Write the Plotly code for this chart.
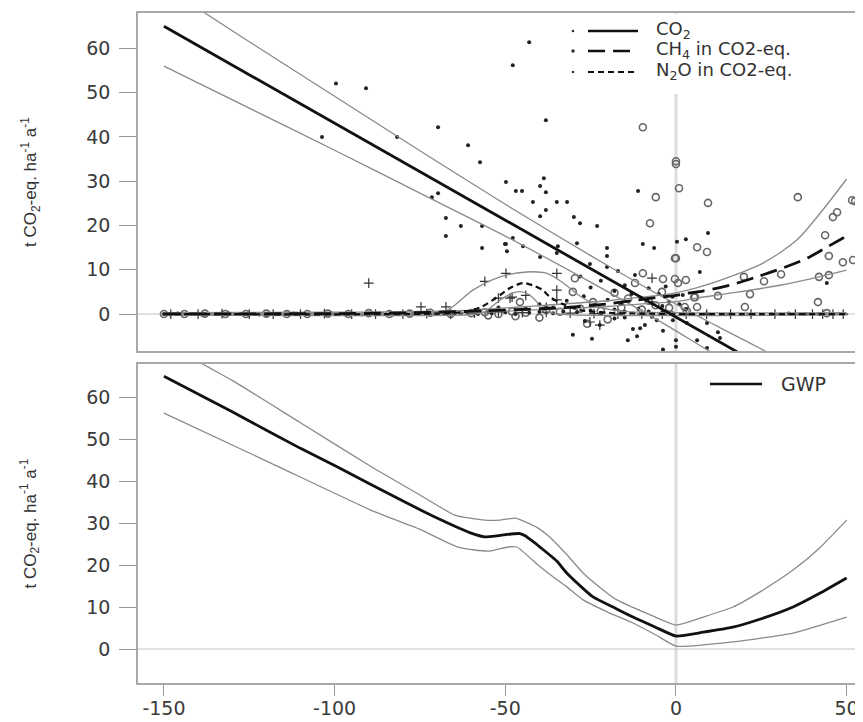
import plotly.graph_objects as go

# ---------------- data ----------------
# CO2 observations (small dots)
co2_x = [-99.6, -90.8, -103.7, -81.7, -69.7, -60.9, -57.4, -47.8, -43.0, -38.1, -49.8, -46.9, -45.1,
         -39.8, -38.7, -38.1, -69.7, -71.5, -67.4, -63.0, -56.8, -67.4, -56.8, -49.8, -49.5, -47.8,
         -11.1, -41.9, -34.9, -31.9, -38.1, -39.8, -29.9, -28.1, -23.1, 9.4, -9.7, -6.4, -50.1, -44.8,
         -39.8, -34.9, -34.6, -29.0, -25.2, -20.2, -20.2, -20.2, -17.0, 0.3, 2.9, 7.0, 44.2,
         -28.0, -25.0, -22.0, -18.0, -15.0, -13.0, -12.0, -10.0, -8.0, -7.0, -5.0, -4.0, -3.0, -2.0,
         -1.0, 1.0, 2.0, 3.0, -16.0, -20.0, -24.0, -27.0, -32.0, -36.0, -40.0, -44.0, -52.0, -55.0,
         -26.7, -22.3, -12.6, -10.5, -9.1, -30.2, -24.6, -14.1, -11.4, -3.8, -5.6, -0.9, 0.0, 0.0,
         -3.8, 3.2, 9.1, 12.3, 12.9, 6.2, 9.1, -18.0, -15.0, -7.0,
         -150, -148, -146, -144, -142, -139, -137, -135, -133, -131, -129, -127, -124, -122, -120,
         -118, -116, -114, -112, -110, -108, -105, -103, -101, -99, -97, -94, -92, -90, -88, -86,
         -83, -81, -79, -77, -75, -72, -70, -68, -65, -63, -61, -58, -54, -50, -47, -43, -40, -36,
         -33, -29, -25, -22, -18, -15, -11, -8, -4, -1, 5, 9, 16, 22, 28, 33, 38, 42, 46, 49]
co2_y = [52.1, 51.0, 40.0, 40.0, 42.2, 38.1, 34.3, 56.2, 61.4, 43.8, 29.8, 27.8, 27.8,
         28.9, 30.7, 27.5, 27.3, 26.4, 21.7, 19.9, 19.9, 17.6, 14.9, 15.8, 14.2, 17.2,
         27.8, 25.3, 25.3, 25.3, 23.5, 22.1, 21.9, 20.5, 19.9, 18.3, 15.8, 14.9, 15.8, 15.3,
         12.9, 13.8, 15.3, 16.0, 11.3, 14.9, 13.1, 10.6, 9.7, 16.3, 16.9, 9.5, 7.0,
         8.5, 6.0, 7.5, 5.2, 6.5, 4.5, 8.8, 3.5, 5.8, 2.5, 4.5, 1.8, 6.2, 2.8,
         3.9, 2.2, 4.3, 1.1, 2.5, 3.2, 2.1, 4.0, 3.0, 1.5, 2.2, 1.2, 1.5, 0.6,
         -1.6, -2.5, -3.4, -3.2, -2.5, -4.7, -5.6, -5.9, -5.0, -3.8, -1.4, -1.4, -5.9, -7.4,
         -8.0, -2.0, -2.0, -4.1, -5.4, -5.9, -7.7, -1.0, -0.8, -0.6,
         0.0, -0.1, 0.1, 0.0, 0.0, -0.1, 0.0, 0.0, 0.1, 0.1, 0.0, 0.0, 0.0, -0.1, -0.1,
         0.0, 0.0, 0.1, 0.1, 0.0, 0.0, 0.0, 0.1, 0.2, 0.0, 0.0, 0.0, -0.1, 0.1, 0.0, 0.0,
         -0.1, 0.0, 0.0, 0.1, 0.2, 0.0, 0.1, 0.1, 0.0, 0.2, 0.3, 0.0, 0.2, 0.4, 0.0, 0.3, 0.5, 0.2,
         0.6, 0.4, 0.8, 0.3, 1.0, 0.5, 1.2, 0.6, 0.4, 0.2, 0.0, 0.1, 0.0, -0.1, 0.0, 0.1, 0.0, 0.0, 0.0]

# CH4 observations in CO2-eq. (open circles)
ch4_x = [-9.7, 0.0, 0.0, 0.9, -5.9, 9.4, -7.6, 0.0, 6.2, 9.1, 35.7, 43.7, 44.8, 48.9, 51.9, 41.9,
         44.8, 30.8, 19.9, 25.8, 21.7, 12.3, 5.3, 20.2, 41.6, 44.2, 6.2, 3.2, 51.6, 52.5, 47.2, 46.0,
         2.9, -9.7, -12.0, -3.8, -0.3, 0.6, -0.3, -4.1, 2.6, 5.6, -24.3, -30.2, -29.6, -45.7, -14.0,
         -18.0, -8.0, -20.0, -26.0, -40.0, -47.0, -55.0,
         -150, -144, -138, -132, -126, -120, -114, -108, -102, -96, -90, -84, -78, -72, -66, -60,
         -56, -52, -48, -44, -38, -34, -28, -22, -16, -10, -6, -2]
ch4_y = [42.2, 34.5, 33.9, 28.4, 26.4, 25.1, 20.5, 12.6, 15.1, 14.0, 26.4, 17.8, 13.1, 11.7, 12.2, 8.4,
         8.8, 9.0, 8.4, 7.4, 4.5, 4.1, 3.8, 1.6, 2.7, 0.2, 1.6, 0.7, 25.7, 25.5, 23.0, 21.9,
         7.7, 9.2, 7.0, 7.9, 7.9, 7.0, 12.6, 5.0, 1.6, 3.8, 2.7, 5.0, 8.1, 2.7, 3.5,
         4.8, 3.0, -1.2, -2.2, -0.8, -0.5, -0.3,
         0.0, 0.0, 0.1, 0.0, 0.0, 0.1, 0.0, 0.0, 0.1, 0.0, 0.2, 0.0, 0.1, 0.3, 0.0, 0.2,
         0.4, 0.0, 0.6, 0.3, 0.9, 0.5, 1.2, 0.7, 1.5, 1.0, 2.0, 1.4]

# N2O observations in CO2-eq. (plus signs)
n2o_x = [-90.0, -74.7, -67.4, -56.0, -49.8, -34.9, -34.9, -34.9, -48.0, -48.6, -7.0, -25.2, -22.3,
         -52.0, -38.0, -44.0,
         -148, -140, -133, -125, -118, -110, -103, -95, -88, -80, -73, -66, -59, -52, -45, -38,
         -31, -24, -17, -10, -4, 3, 9, 16, 22, 29, 35, 40, 43, 46, 49]
n2o_y = [7.0, 1.6, 1.6, 7.4, 9.2, 9.2, 5.4, 3.2, 3.8, 3.6, 8.1, -1.8, -2.5,
         3.6, 1.5, 4.2,
         0.0, 0.0, 0.1, 0.0, 0.0, 0.0, 0.1, 0.0, 0.0, 0.0, 0.1, 0.0, 0.2, 0.5, 0.3, 0.4,
         0.2, 0.1, 0.0, 0.0, 0.0, 0.0, 0.0, 0.0, 0.0, 0.0, 0.0, 0.0, 0.0, 0.0, 0.0]

# CO2 fit and confidence band
co2_fit_x = [-150, -100, -50, 0, 50]
co2_fit_y = [65.0, 43.1, 21.2, -0.7, -22.6]
co2_band_x = [-150, -125, -100, -75, -50, -25, -10, 0, 10, 20, 30]
co2_up = [74.0, 61.5, 49.2, 36.9, 24.8, 13.2, 6.5, 2.2, -1.9, -5.9, -9.9]
co2_lo = [56.0, 46.5, 37.0, 27.3, 17.6, 7.2, 0.7, -3.8, -8.5, -13.1, -17.9]

# CH4 fit and confidence band
ch4_fit_x = [-150, -100, -70, -50, -34, -20, -11, -5, 0, 3.2, 7.9, 15.8, 23.7, 31.3, 38.4, 44.2, 50]
ch4_fit_y = [0.05, 0.1, 0.4, 0.9, 1.4, 2.3, 3.2, 3.8, 4.2, 4.7, 5.2, 6.5, 8.4, 10.4, 12.6, 15.1, 17.6]
ch4_up_x = [-150, -100, -60, -40, -20, -10, 0, 6, 15.8, 25.5, 35.4, 43, 50]
ch4_up = [0.3, 0.4, 0.9, 1.9, 3.0, 3.8, 4.8, 5.9, 8.4, 11.5, 16.7, 23.5, 30.5]
ch4_lo_x = [-150, -100, -60, -40, -20, -10, 0, 6, 15.8, 30.5, 42, 50]
ch4_lo = [-0.2, -0.2, 0.3, 1.0, 1.7, 2.3, 2.8, 3.6, 4.7, 6.5, 8.4, 9.9]

# N2O fit and confidence band
n2o_fit_x = [-150, -70, -62, -57, -51.5, -48.6, -44.8, -42, -39, -37, -33, -28, -20, -10, 0, 50]
n2o_fit_y = [0.0, 0.1, 0.5, 1.6, 4.3, 5.9, 7.0, 6.5, 5.4, 3.9, 2.2, 0.9, 0.3, 0.1, 0.0, 0.0]
n2o_up_x = [-150, -75, -67, -59.5, -51.5, -43.7, -37.8, -33, -28, -22, -15, 0, 50]
n2o_up = [0.2, 0.3, 0.9, 5.4, 8.4, 9.5, 9.2, 7.0, 4.0, 1.5, 0.6, 0.3, 0.3]
n2o_lo_x = [-150, -60, -56.5, -50.7, -46.6, -43.7, -40.7, -39.8, -36, -30, 50]
n2o_lo = [-0.2, -0.1, 0.3, 3.6, 5.0, 4.7, 2.7, 1.4, 0.2, -0.2, -0.2]

# GWP fit and confidence band
gwp_x = [-150, -130, -110, -99, -79.4, -70, -60, -56, -52, -48.3, -45.7, -44.2, -42, -40, -35, -32,
         -28, -24.3, -18, -12.6, -6, 0, 8, 16.7, 25, 34.3, 42, 50]
gwp_y = [65.0, 56.5, 47.8, 43.3, 35.0, 31.2, 27.6, 26.7, 27.0, 27.4, 27.5, 27.0, 25.7, 24.4, 21.0, 18.1,
         15.0, 12.4, 9.8, 7.6, 5.2, 3.1, 4.0, 5.2, 7.2, 10.0, 13.2, 16.9]
gwp_up_x = [-150, -138.6, -130, -110, -89, -75, -64.8, -56, -51.6, -47, -45.7, -40.4, -37, -32, -27.2,
            -22, -17.3, -8, 0, 8, 16.7, 25, 34.3, 42, 50]
gwp_up = [74.5, 67.9, 64.0, 53.9, 43.3, 36.7, 31.9, 30.7, 30.7, 31.2, 30.8, 28.8, 26.7, 22.5, 18.1,
          14.5, 11.7, 8.3, 5.7, 7.6, 10.0, 13.8, 18.8, 24.0, 30.7]
gwp_lo_x = [-150, -118.7, -89.4, -75, -63.9, -55, -49.2, -46.6, -40.4, -37, -32, -27.2, -20, -12.6,
            -6, 0, 16.7, 34.3, 50]
gwp_lo = [56.2, 44.3, 33.1, 28.5, 24.3, 23.3, 24.3, 24.3, 20.0, 17.8, 14.8, 11.7, 8.8, 6.2,
          3.4, 0.7, 1.7, 3.8, 7.6]

x_ticks = [-150, -100, -50, 0, 50]
x_tick_text = ["-150", "-100", "-50", "0", "50"]
y_ticks = [0, 10, 20, 30, 40, 50, 60]
y_tick_text = ["0", "10", "20", "30", "40", "50", "60"]

legend_names = ["CO<sub>2</sub>", "CH<sub>4</sub> in CO2-eq.", "N<sub>2</sub>O in CO2-eq."]
gwp_name = "GWP"

# ---------------- figure ----------------
W, H = 855, 714          # page has an 8px body margin
OFF = 8


def px(xp):              # page pixel -> paper x
    return (xp - OFF) / W


def py(yp):              # page pixel -> paper y
    return 1 - (yp - OFF) / H


BAND = dict(color="#8a8a8a", width=1.3)
FONT = "DejaVu Sans, Verdana, sans-serif"
DASH_CH4 = "17px,8px"
DASH_N2O = "6px,4px"

fig = go.Figure()

# observations (top panel)
fig.add_trace(go.Scatter(x=ch4_x, y=ch4_y, mode="markers", showlegend=False, xaxis="x", yaxis="y",
                         marker=dict(symbol="circle-open", size=7, color="#666666", line=dict(width=1.6))))
fig.add_trace(go.Scatter(x=n2o_x, y=n2o_y, mode="markers", showlegend=False, xaxis="x", yaxis="y",
                         marker=dict(symbol="cross-thin", size=7, color="#333333",
                                     line=dict(width=1.2, color="#333333"))))
fig.add_trace(go.Scatter(x=co2_x, y=co2_y, mode="markers", showlegend=False, xaxis="x", yaxis="y",
                         marker=dict(symbol="circle", size=4, color="#222222")))

# bands (top)
for bx, by in [(co2_band_x, co2_up), (co2_band_x, co2_lo), (ch4_up_x, ch4_up), (ch4_lo_x, ch4_lo),
               (n2o_up_x, n2o_up), (n2o_lo_x, n2o_lo)]:
    fig.add_trace(go.Scatter(x=bx, y=by, mode="lines", line=dict(**BAND, shape="spline", smoothing=0.8),
                             showlegend=False, xaxis="x", yaxis="y", hoverinfo="skip"))

# fits (top)
fig.add_trace(go.Scatter(x=co2_fit_x, y=co2_fit_y, mode="lines", name=legend_names[0], showlegend=False,
                         line=dict(color="#111111", width=2.8), xaxis="x", yaxis="y"))
fig.add_trace(go.Scatter(x=ch4_fit_x, y=ch4_fit_y, mode="lines", name=legend_names[1], showlegend=False,
                         line=dict(color="#111111", width=2.8, dash=DASH_CH4, shape="spline", smoothing=0.8),
                         xaxis="x", yaxis="y"))
fig.add_trace(go.Scatter(x=n2o_fit_x, y=n2o_fit_y, mode="lines", name=legend_names[2], showlegend=False,
                         line=dict(color="#111111", width=2.2, dash=DASH_N2O, shape="spline", smoothing=0.8),
                         xaxis="x", yaxis="y"))

# bottom panel
fig.add_trace(go.Scatter(x=gwp_up_x, y=gwp_up, mode="lines", line=dict(**BAND, shape="spline", smoothing=0.5),
                         showlegend=False, xaxis="x2", yaxis="y2", hoverinfo="skip"))
fig.add_trace(go.Scatter(x=gwp_lo_x, y=gwp_lo, mode="lines", line=dict(**BAND, shape="spline", smoothing=0.5),
                         showlegend=False, xaxis="x2", yaxis="y2", hoverinfo="skip"))
fig.add_trace(go.Scatter(x=gwp_x, y=gwp_y, mode="lines", name=gwp_name, showlegend=False,
                         line=dict(color="#111111", width=2.8, shape="spline", smoothing=0.5),
                         xaxis="x2", yaxis="y2"))

XR = [-157.6, 54.8]
xdom = [px(138), 1.0]
ydom_top = [py(351), py(13)]
ydom_bot = [py(683), py(364)]

axis_common = dict(showgrid=False, zeroline=False, linecolor="#a8a8a8", linewidth=1.5,
                   tickcolor="#999999", tickfont=dict(family=FONT, size=19, color="#3a3a3a"))
axis_noticks = {k: v for k, v in axis_common.items() if k != "tickfont"}

fig.update_layout(
    width=W, height=H,
    margin=dict(l=0, r=0, t=0, b=0, autoexpand=False),
    paper_bgcolor="white", plot_bgcolor="white",
    font=dict(family=FONT, color="#333333"),
    showlegend=False,
    xaxis=dict(domain=xdom, range=XR, anchor="y", showline=True, mirror=True, ticks="",
               showticklabels=False, **axis_noticks),
    yaxis=dict(domain=ydom_top, range=[-8.35, 68], anchor="x", showline=True, ticks="outside", ticklen=17,
               tickvals=y_ticks, ticktext=y_tick_text, ticklabelstandoff=5, **axis_common),
    xaxis2=dict(domain=xdom, range=XR, anchor="y2", showline=True, mirror=True, ticks="outside", ticklen=11,
                tickvals=x_ticks, ticktext=x_tick_text, ticklabelstandoff=-4, **axis_common),
    yaxis2=dict(domain=ydom_bot, range=[-8.1, 67.9], anchor="x2", showline=True, ticks="outside", ticklen=17,
                tickvals=y_ticks, ticktext=y_tick_text, ticklabelstandoff=5, **axis_common),
)

# reference lines at x=0 and y=0 in both panels
for xa, ya in [("x", "y"), ("x2", "y2")]:
    fig.add_shape(type="line", xref=xa, yref=ya + " domain", x0=0, x1=0, y0=0, y1=1,
                  line=dict(color="#dcdcdc", width=3), layer="below")
    fig.add_shape(type="line", xref=xa + " domain", yref=ya, x0=0, x1=1, y0=0, y1=0,
                  line=dict(color="#c4c4c4", width=1), layer="below")

# y-axis titles
ytitle = "t CO<sub>2</sub>-eq. ha<sup>-1</sup> a<sup>-1</sup>"
for yc in [(ydom_top[0] + ydom_top[1]) / 2, (ydom_bot[0] + ydom_bot[1]) / 2]:
    fig.add_annotation(text=ytitle, xref="paper", yref="paper", x=px(30), y=yc, showarrow=False,
                       textangle=-90, xanchor="center", yanchor="middle",
                       font=dict(family="Liberation Sans Narrow, Liberation Sans, Arial Narrow, sans-serif",
                                 size=17, color="#333333"))

# ---------------- legends (white boxes, samples, labels) ----------------
LEG_FONT = dict(family=FONT, size=18, color="#333333")
fig.add_shape(type="rect", xref="paper", yref="paper", x0=px(562), x1=px(863), y0=py(94), y1=py(14),
              fillcolor="white", line=dict(width=0), layer="above")
fig.add_shape(type="rect", xref="paper", yref="paper", x0=px(700), x1=px(850), y0=py(402), y1=py(366),
              fillcolor="white", line=dict(width=0), layer="above")

rows_y = [31, 51, 72]
styles = [dict(color="#111111", width=2.6), dict(color="#111111", width=2.6, dash=DASH_CH4),
          dict(color="#111111", width=2.0, dash=DASH_N2O)]
dot_r = [1.3, 1.8, 1.3]
for name, yr, st, r in zip(legend_names, rows_y, styles, dot_r):
    fig.add_shape(type="line", xref="paper", yref="paper", x0=px(588), x1=px(638), y0=py(yr), y1=py(yr),
                  line=st, layer="above")
    fig.add_shape(type="circle", xref="paper", yref="paper", x0=px(573 - r), x1=px(573 + r),
                  y0=py(yr + r), y1=py(yr - r), fillcolor="#333333", line=dict(width=0), layer="above")
    fig.add_annotation(text=name, xref="paper", yref="paper", x=px(654), y=py(yr - 1), xanchor="left",
                       yanchor="middle", showarrow=False, font=LEG_FONT)

fig.add_shape(type="line", xref="paper", yref="paper", x0=px(710), x1=px(762), y0=py(384), y1=py(384),
              line=dict(color="#111111", width=2.6), layer="above")
fig.add_annotation(text=gwp_name, xref="paper", yref="paper", x=px(779), y=py(384), xanchor="left",
                   yanchor="middle", showarrow=False, font=dict(family=FONT, size=19, color="#333333"))

fig.write_html("out.html")
